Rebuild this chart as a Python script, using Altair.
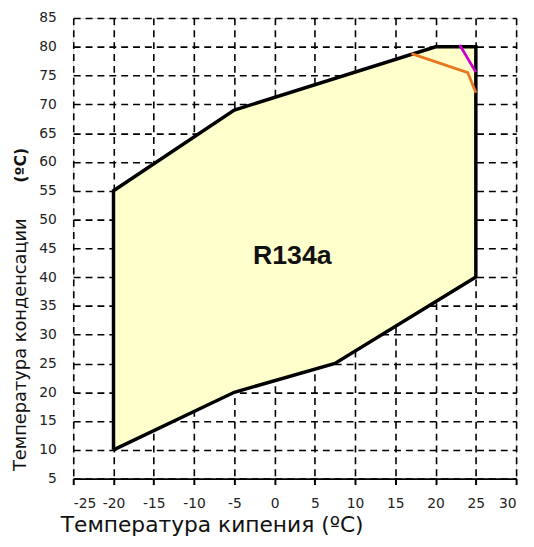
import altair as alt
import pandas as pd

# Envelope polygon (evaporating temp, condensing temp)
env_x = [-20, -5, 7.5, 25, 25, 20, -5, -20, -20]
env_y = [10, 20, 25, 40, 80, 80, 69, 55, 10]

orange_x = [17, 24, 25]
orange_y = [78.8, 75.5, 72]

magenta_x = [23, 25]
magenta_y = [80.3, 75.6]

label_text = ["R134a"]
label_x = [2.2]
label_y = [43.6]

unit_text = ["(ºC)"]

x_ticks = list(range(-25, 31, 5))
y_ticks = list(range(5, 86, 5))

env = pd.DataFrame({"x": env_x, "y": env_y, "o": list(range(len(env_x)))})
orange = pd.DataFrame({"x": orange_x, "y": orange_y, "o": list(range(len(orange_x)))})
magenta = pd.DataFrame({"x": magenta_x, "y": magenta_y, "o": list(range(len(magenta_x)))})
lab = pd.DataFrame({"x": label_x, "y": label_y, "t": label_text})
unit = pd.DataFrame({"t": unit_text})

xs = alt.Scale(domain=[-25, 30], nice=False, zero=False)
ys = alt.Scale(domain=[5, 85], nice=False, zero=False)

FONT = "DejaVu Sans"

x_axis = alt.Axis(
    values=x_ticks, title="Температура кипения (ºC)", grid=True,
    gridDash=[7, 5], gridColor="black", gridWidth=1.6, gridOpacity=1,
    domain=True, domainColor="black", domainWidth=2,
    ticks=True, tickColor="black", tickWidth=2, tickSize=6,
    labelFont=FONT, labelFontSize=14, labelColor="#222", labelPadding=12,
    labelOverlap=False, labelExpr="'' + datum.value",
    titleFont=FONT, titleFontSize=22, titleFontWeight="normal", titleColor="#111",
    titleX=140, titleY=53, titleAnchor="middle", titleAlign="center",
    titleBaseline="alphabetic",
)
y_axis = alt.Axis(
    values=y_ticks, title="Температура конденсации", grid=True,
    gridDash=[7, 5], gridColor="black", gridWidth=1.6, gridOpacity=1,
    domain=False, ticks=False,
    labelFont=FONT, labelFontSize=14, labelColor="#222", labelPadding=17,
    labelOverlap=False, labelExpr="'' + datum.value",
    titleFont=FONT, titleFontSize=18, titleFontWeight="normal", titleColor="#111",
    titleX=-48, titleY=330, titleAngle=-90, titleAlign="center",
    titleBaseline="alphabetic",
)

X = alt.X("x:Q", scale=xs, axis=x_axis)
Y = alt.Y("y:Q", scale=ys, axis=y_axis)

poly = alt.Chart(env).mark_line(
    fill="#FFFFCC", stroke="black", strokeWidth=3.5, strokeJoin="miter"
).encode(x=X, y=Y, order=alt.Order("o:Q"))

orange_line = alt.Chart(orange).mark_line(color="#E87820", strokeWidth=2.8).encode(
    x=X, y=Y, order="o:Q")
magenta_line = alt.Chart(magenta).mark_line(color="#CC00CC", strokeWidth=2.8).encode(
    x=X, y=Y, order="o:Q")

text = alt.Chart(lab).mark_text(
    font="Liberation Sans", fontSize=27, fontWeight="bold", color="#111",
    baseline="middle", align="center"
).encode(x=X, y=Y, text="t:N")

unit_mark = alt.Chart(unit).mark_text(
    font=FONT, fontSize=16, fontWeight="bold", color="#111",
    angle=270, baseline="alphabetic", align="center"
).encode(x=alt.value(-48), y=alt.value(149), text="t:N")

chart = alt.layer(poly, orange_line, magenta_line, text, unit_mark).properties(
    width=448, height=466,
    autosize=alt.AutoSizeParams(type="none"),
    padding={"left": 66, "top": 7, "right": 10, "bottom": 58},
).configure_view(strokeWidth=0).configure(background="white")

chart.save("out.html", embed_options={"renderer": "svg", "actions": False})
